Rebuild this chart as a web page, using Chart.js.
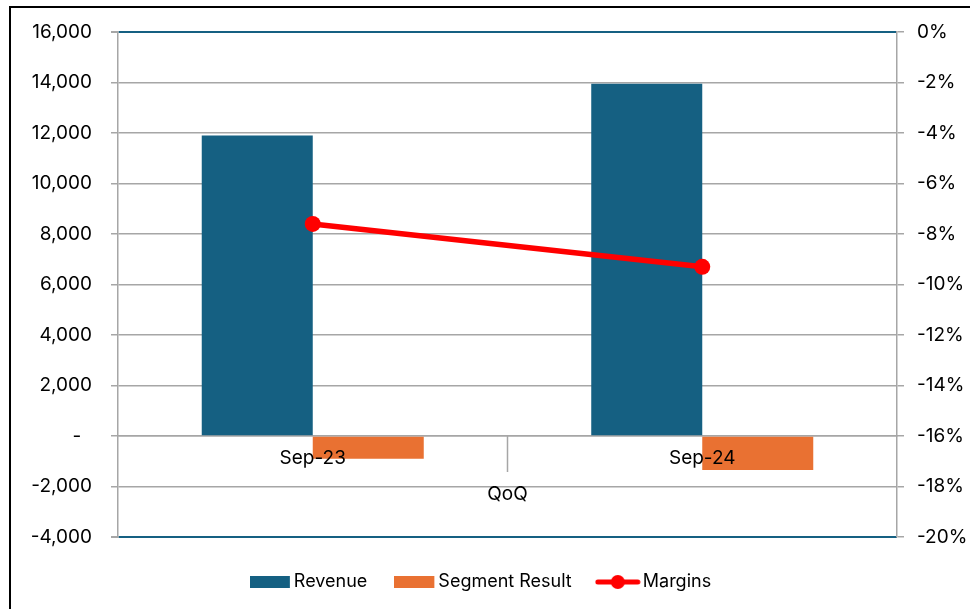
<!DOCTYPE html>
<html>
<head>
<meta charset="utf-8">
<script src="https://cdn.jsdelivr.net/npm/chart.js@4.4.1/dist/chart.umd.min.js"></script>
<style>
  html, body { margin: 0; padding: 0; background: #fff; overflow: hidden; }
  #wrap { position: relative; width: 970px; height: 609px; }
  #frame { position: absolute; left: 9px; top: 6px; width: 980px; height: 620px;
           border-left: 2px solid #000; border-top: 2px solid #000; pointer-events: none; }
  canvas { position: absolute; left: 0; top: 0; }
</style>
</head>
<body>
<div id="wrap">
  <canvas id="chart" width="970" height="609"></canvas>
  <div id="frame"></div>
</div>
<script>
// 數據
const categories = ['Sep-23', 'Sep-24'];
const groupLabel = 'QoQ';
const revenue = [11900, 13950];
const segmentResult = [-900, -1350];
const margins = [-7.6, -9.3]; // %

const FONT = 'Inter, "Liberation Sans", Arial, sans-serif';
const BLUE = '#156082';
const ORANGE = '#E97132';
const RED = '#FF0000';
const GRID = '#A6A6A6';

// 圖例圖示（畫布中心落在 boxWidth/2，圖示向左偏移）
function swatch(color) {
  const c = document.createElement('canvas');
  c.width = 44; c.height = 14;
  const g = c.getContext('2d');
  g.fillStyle = color;
  g.fillRect(0, 1, 40, 12);
  return c;
}
function lineMarker() {
  const c = document.createElement('canvas');
  c.width = 52; c.height = 16;
  const g = c.getContext('2d');
  g.strokeStyle = RED; g.lineWidth = 5; g.lineCap = 'round';
  g.beginPath(); g.moveTo(3, 8); g.lineTo(43, 8); g.stroke();
  g.fillStyle = RED;
  g.beginPath(); g.arc(23, 8, 7, 0, Math.PI * 2); g.fill();
  return c;
}
const legendIcons = [swatch(BLUE), swatch(ORANGE), lineMarker()];

// 分組標籤與分隔線
const groupAxis = {
  id: 'groupAxis',
  afterDraw(chart) {
    const x = chart.scales.x, y = chart.scales.y;
    const ctx = chart.ctx;
    const y0 = y.getPixelForValue(0);
    const mid = x.getPixelForValue((categories.length - 1) / 2);
    ctx.save();
    ctx.strokeStyle = GRID;
    ctx.lineWidth = 1.5;
    ctx.beginPath();
    ctx.moveTo(mid, y0);
    ctx.lineTo(mid, y0 + 36);
    ctx.stroke();
    ctx.fillStyle = '#000';
    ctx.font = '19px ' + FONT;
    ctx.textAlign = 'center';
    ctx.textBaseline = 'middle';
    ctx.fillText(groupLabel, mid, y0 + 58);
    ctx.restore();
  }
};

new Chart(document.getElementById('chart'), {
  type: 'bar',
  data: {
    labels: categories,
    datasets: [
      {
        label: 'Revenue',
        data: revenue,
        backgroundColor: BLUE,
        yAxisID: 'y',
        order: 1,
        categoryPercentage: 0.57,
        barPercentage: 1.0
      },
      {
        label: 'Segment Result',
        data: segmentResult,
        backgroundColor: ORANGE,
        yAxisID: 'y',
        order: 1,
        categoryPercentage: 0.57,
        barPercentage: 1.0
      },
      {
        type: 'line',
        label: 'Margins',
        data: margins,
        borderColor: RED,
        backgroundColor: RED,
        borderWidth: 5.5,
        pointRadius: 8,
        pointHoverRadius: 8,
        pointBackgroundColor: RED,
        pointBorderWidth: 0,
        yAxisID: 'y1',
        order: 0
      }
    ]
  },
  options: {
    responsive: false,
    animation: false,
    layout: { padding: { top: 32, left: 0, right: 0, bottom: 8 } },
    scales: {
      x: {
        position: { y: 0 },
        grid: { display: false, drawTicks: false },
        border: { display: true, color: GRID, width: 1.5 },
        ticks: {
          z: 1,
          color: '#000',
          font: { family: FONT, size: 19 },
          padding: 11,
          maxRotation: 0
        }
      },
      y: {
        position: 'left',
        min: -4000,
        max: 16000,
        afterFit(scale) { scale.width = 118; },
        ticks: {
          stepSize: 2000,
          color: '#000',
          font: { family: FONT, size: 19 },
          padding: 19,
          callback: (v) => v === 0 ? '-  ' : v.toLocaleString('en-US')
        },
        grid: {
          color: (c) => (c.index === 0 || c.tick.value === 16000) ? BLUE : GRID,
          lineWidth: (c) => (c.index === 0 || c.tick.value === 16000) ? 2 : 1.5,
          tickColor: GRID,
          tickLength: 7
        },
        border: { display: true, color: GRID, width: 1.5 }
      },
      y1: {
        position: 'right',
        min: -20,
        max: 0,
        afterFit(scale) { scale.width = 73; },
        ticks: {
          stepSize: 2,
          color: '#000',
          font: { family: FONT, size: 19 },
          padding: 13,
          callback: (v) => v + '%'
        },
        grid: {
          drawOnChartArea: false,
          tickColor: GRID,
          tickLength: 7,
          lineWidth: 1.5
        },
        border: { display: true, color: GRID, width: 1.5 }
      }
    },
    plugins: {
      tooltip: { enabled: false },
      legend: {
        position: 'bottom',
        labels: {
          color: '#000',
          font: { family: FONT, size: 18 },
          usePointStyle: true,
          pointStyleWidth: 26,
          padding: 36,
          sort: (a, b) => a.datasetIndex - b.datasetIndex,
          generateLabels(chart) {
            const items = Chart.defaults.plugins.legend.labels.generateLabels(chart);
            items.forEach((it) => { it.pointStyle = legendIcons[it.datasetIndex]; });
            return items;
          }
        }
      }
    }
  },
  plugins: [groupAxis]
});
</script>
</body>
</html>
